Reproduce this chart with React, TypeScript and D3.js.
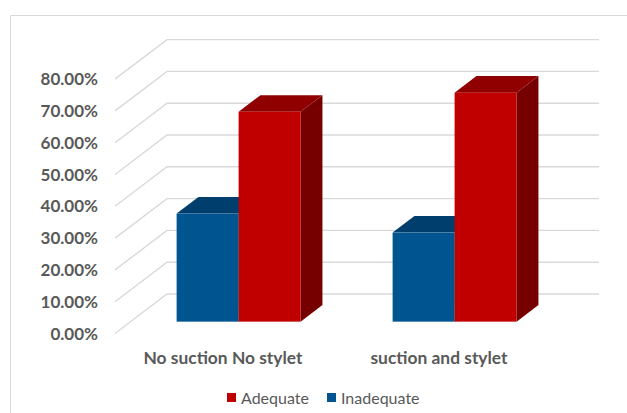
import React from "react";
import * as d3 from "d3";

// Chart data
const categories = ["No suction No stylet", "suction and stylet"];
const seriesNames = ["Inadequate", "Adequate"];
const inadequate = [0.34, 0.28];
const adequate = [0.66, 0.72];
const yTicks = [0, 0.1, 0.2, 0.3, 0.4, 0.5, 0.6, 0.7, 0.8];
const legendOrder = ["Adequate", "Inadequate"];

const W = 627;
const H = 413;

// Oblique projection: floor front-left corner, full depth offset
const floorX0 = 115;
const floorX1 = 547;
const depthDX = 52;
const depthDY = -39.5;
const barDepthStart = 0.3;
const barDepthEnd = 0.72;

const colors: Record<string, { front: string; top: string; side: string }> = {
  Inadequate: { front: "#00548f", top: "#003f6d", side: "#003a63" },
  Adequate: { front: "#c00000", top: "#900000", side: "#760000" },
};

const textColor = "#595959";
const gridColor = "#d9d9d9";
const font = "Lato, 'Open Sans', sans-serif";

export default function App() {
  // value scale on the front plane of the floor
  const y = d3.scaleLinear().domain([0, 0.8]).range([333.5, 333.5 - 8 * 31.8]);

  const fx = barDepthStart * depthDX;
  const fy = barDepthStart * depthDY;
  const bdx = (barDepthEnd - barDepthStart) * depthDX;
  const bdy = (barDepthEnd - barDepthStart) * depthDY;

  // category bands on the bars' front plane
  const x = d3
    .scaleBand<string>()
    .domain(categories)
    .range([floorX0 + fx, floorX1 + fx])
    .padding(0);
  const groupW = x.bandwidth() * 0.574;
  const inner = d3
    .scaleBand<string>()
    .domain(seriesNames)
    .range([0, groupW])
    .padding(0);

  const values: Record<string, number[]> = {
    Inadequate: inadequate,
    Adequate: adequate,
  };

  const bars: React.ReactNode[] = [];
  categories.forEach((cat, ci) => {
    const gx = (x(cat) as number) + (x.bandwidth() - groupW) / 2;
    seriesNames.forEach((s) => {
      const v = values[s][ci];
      const x0 = gx + (inner(s) as number);
      const x1 = x0 + inner.bandwidth();
      const yb = y(0) + fy;
      const yt = y(v) + fy;
      const c = colors[s];
      bars.push(
        <g key={`${cat}-${s}`}>
          <polygon
            points={`${x1},${yt} ${x1 + bdx},${yt + bdy} ${x1 + bdx},${yb + bdy} ${x1},${yb}`}
            fill={c.side}
          />
          <polygon
            points={`${x0},${yt} ${x0 + bdx},${yt + bdy} ${x1 + bdx},${yt + bdy} ${x1},${yt}`}
            fill={c.top}
          />
          <rect x={x0} y={yt} width={x1 - x0} height={yb - yt} fill={c.front} />
        </g>
      );
    });
  });

  const fmt = d3.format(".2%");

  return (
    <svg
      width={W}
      height={H}
      style={{ position: "absolute", left: 0, top: 0, background: "#fff" }}
    >
      <line x1={10.5} y1={15.5} x2={W} y2={15.5} stroke={gridColor} strokeWidth={1} />
      <line x1={10.5} y1={15.5} x2={10.5} y2={H} stroke={gridColor} strokeWidth={1} />

      {yTicks.map((t) => (
        <g key={t}>
          <polyline
            points={`${floorX0},${y(t)} ${floorX0 + depthDX},${y(t) + depthDY} ${floorX1 + depthDX},${y(t) + depthDY}`}
            fill="none"
            stroke={gridColor}
            strokeWidth={1.4}
          />
          <text
            x={98}
            y={y(t)}
            dy="0.36em"
            textAnchor="end"
            fontFamily={font}
            fontWeight={700}
            fontSize={17}
            fill={textColor}
          >
            {fmt(t)}
          </text>
        </g>
      ))}

      {bars}

      {categories.map((cat) => (
        <text
          key={cat}
          x={(x(cat) as number) + x.bandwidth() / 2 - fx}
          y={358}
          dy="0.36em"
          textAnchor="middle"
          fontFamily={font}
          fontWeight={700}
          fontSize={17.4}
          fill={textColor}
        >
          {cat}
        </text>
      ))}

      {legendOrder.map((s, i) => {
        const lx = i === 0 ? 227 : 327;
        return (
          <g key={s}>
            <rect x={lx} y={393} width={9} height={9} fill={colors[s].front} />
            <text
              x={lx + 14}
              y={398}
              dy="0.36em"
              fontFamily={font}
              fontSize={16}
              fill={textColor}
            >
              {s}
            </text>
          </g>
        );
      })}
    </svg>
  );
}
